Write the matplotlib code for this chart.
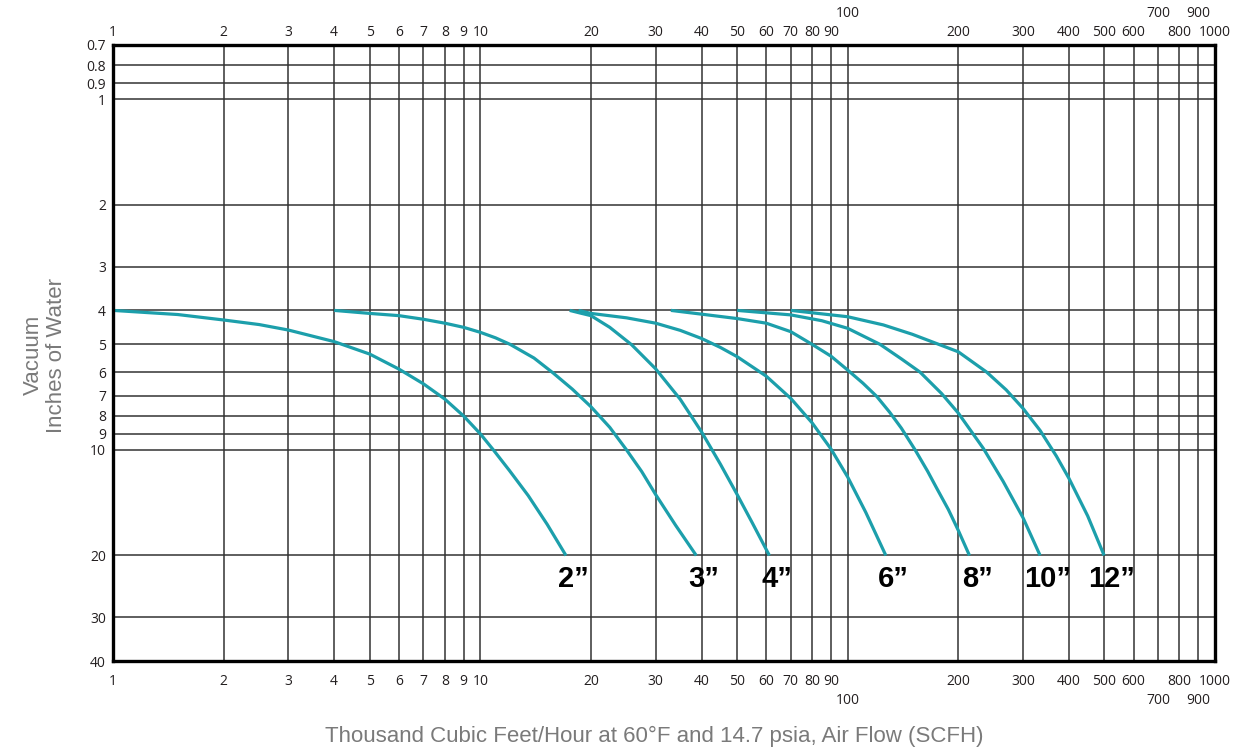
import numpy as np
import matplotlib.pyplot as plt
from matplotlib.ticker import NullLocator

plt.rcParams['font.family'] = ['Open Sans', 'DejaVu Sans']

# flow (thousand SCFH) vs vacuum (in. water)
x_2 = [1, 1.5, 2, 2.5, 3, 4, 5, 6, 7, 8, 9, 10, 10.85, 12, 13.5, 15.2, 17.1]
y_2 = [4, 4.11, 4.26, 4.39, 4.55, 4.91, 5.33, 5.88, 6.48, 7.16, 8.0, 9.0, 10, 11.45, 13.5, 16.3, 20]
x_3 = [4, 5, 6, 7, 8, 9, 10, 11, 12.05, 14, 15.8, 17.8, 20, 22.5, 25, 27.5, 30, 34, 38.7]
y_3 = [4, 4.08, 4.14, 4.24, 4.35, 4.47, 4.62, 4.79, 5, 5.47, 6.04, 6.71, 7.53, 8.62, 10, 11.53, 13.4, 16.4, 20]
x_4 = [17.5, 18.7, 20, 22.5, 25.8, 30, 35, 40, 45, 50, 55, 61.2]
y_4 = [4, 4.07, 4.14, 4.47, 5.01, 5.87, 7.17, 8.88, 10.97, 13.4, 16.15, 20]
x_6 = [18.5, 20, 25, 30, 35, 40, 45, 50, 60, 70, 80, 90, 100, 112, 127]
y_6 = [4, 4.08, 4.2, 4.35, 4.56, 4.81, 5.1, 5.42, 6.16, 7.13, 8.37, 9.93, 11.95, 15.07, 20]
x_8 = [33, 40, 50, 60, 70, 80, 90, 100, 110, 120, 130, 140, 152.6, 165, 175, 188, 200, 214.5]
y_8 = [4, 4.1, 4.22, 4.35, 4.6, 5.0, 5.4, 5.92, 6.45, 7.04, 7.8, 8.67, 10, 11.5, 12.9, 14.8, 16.96, 20]
x_10 = [50, 70, 85, 100, 122.5, 140, 157.4, 180, 200, 234, 265, 300, 334]
y_10 = [4, 4.12, 4.28, 4.5, 5, 5.5, 6, 6.9, 7.85, 9.9, 12.3, 15.6, 20]
x_12 = [70, 100, 125, 150, 200, 239, 270, 300, 334, 370, 400, 450, 499]
y_12 = [4, 4.17, 4.4, 4.68, 5.25, 6, 6.74, 7.61, 8.8, 10.42, 12.04, 15.42, 20]

sizes = ['2\u201d', '3\u201d', '4\u201d', '6\u201d', '8\u201d', '10\u201d', '12\u201d']
flows = [x_2, x_3, x_4, x_6, x_8, x_10, x_12]
vacs = [y_2, y_3, y_4, y_6, y_8, y_10, y_12]

x_ticks = [1, 2, 3, 4, 5, 6, 7, 8, 9, 10, 20, 30, 40, 50, 60, 70, 80, 90, 100,
           200, 300, 400, 500, 600, 700, 800, 900, 1000]
x_offset_ticks = [100, 700, 900]   # labels pushed out on longer ticks
y_ticks = [0.7, 0.8, 0.9, 1, 2, 3, 4, 5, 6, 7, 8, 9, 10, 20, 30, 40]

teal = '#1c9fab'
ink = '#231f20'

fig = plt.figure(figsize=(12.42, 7.51), dpi=100)
ax = fig.add_axes([0.0910, 0.1198, 0.8873, 0.8203])
ax.set_xscale('log')
ax.set_yscale('log')
ax.set_xlim(1, 1000)
ax.set_ylim(40, 0.7)

ax.set_xticks(x_ticks, labels=[str(t) for t in x_ticks])
ax.set_yticks(y_ticks, labels=[f'{t:g}' for t in y_ticks])
ax.xaxis.set_minor_locator(NullLocator())
ax.yaxis.set_minor_locator(NullLocator())
ax.grid(True, which='major', color='#333333', lw=1.1)
ax.tick_params(axis='x', length=0, pad=9.5, labelsize=10, labelcolor=ink)
ax.tick_params(axis='y', length=0, pad=5, labelsize=10, labelcolor=ink)
for sp in ax.spines.values():
    sp.set_linewidth(2.4)
    sp.set_color('black')
    sp.set_zorder(5)

sec = ax.secondary_xaxis('top')
sec.set_xticks(x_ticks, labels=[str(t) for t in x_ticks])
sec.xaxis.set_minor_locator(NullLocator())
sec.tick_params(axis='x', length=0, pad=3.4, labelsize=10, labelcolor=ink)
sec.spines['top'].set_visible(False)

# longer ticks for 100 / 700 / 900
for t, loc in zip(ax.xaxis.get_major_ticks(), x_ticks):
    if loc in x_offset_ticks:
        t.tick1line.set_markersize(13.7)
        t.tick1line.set_markeredgewidth(1.1)
        t.tick1line.set_color('#333333')
        t.set_pad(23)
for t, loc in zip(sec.xaxis.get_major_ticks(), x_ticks):
    if loc in x_offset_ticks:
        t.tick2line.set_markersize(10.8)
        t.tick2line.set_markeredgewidth(1.1)
        t.tick2line.set_color('#333333')
        t.set_pad(17)

for name, xs, ys in zip(sizes, flows, vacs):
    ax.plot(xs, ys, color=teal, lw=2.3, solid_capstyle='butt',
            solid_joinstyle='round', zorder=4)
    ax.text(xs[-1] * 1.05, 23.3, name, ha='center', va='center',
            fontsize=21, fontweight='bold', color='black',
            family=['Liberation Sans', 'DejaVu Sans'], zorder=6)

narrow = ['Liberation Sans', 'DejaVu Sans']
fig.text(0.036, 0.527, 'Vacuum\nInches of Water', rotation=90, ha='center',
         va='center', fontsize=16, color='#7a7a7a', family=narrow,
         multialignment='center', linespacing=1.1)
fig.text(0.527, 0.019, 'Thousand Cubic Feet/Hour at 60\u00b0F and 14.7 psia, Air Flow (SCFH)',
         ha='center', va='center', fontsize=16, color='#7a7a7a', family=narrow)

fig.savefig('out.png', dpi=100)
